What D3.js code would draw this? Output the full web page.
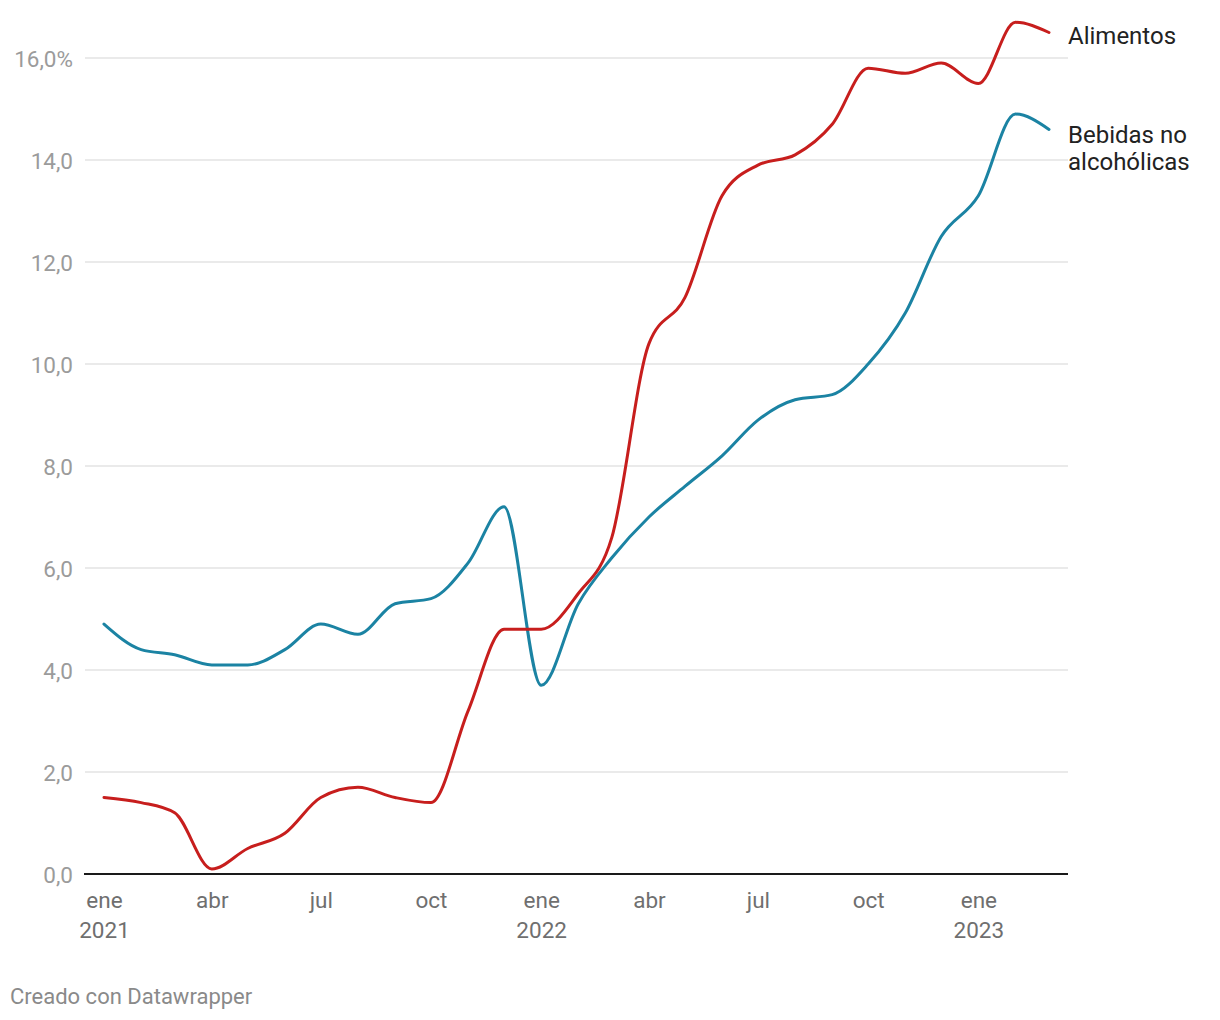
<!DOCTYPE html>
<html><head><meta charset="utf-8">
<script src="https://cdn.jsdelivr.net/npm/d3@7"></script>
<style>
html,body{margin:0;padding:0;background:#fff;}
svg{display:block;font-family:Roboto,"Noto Sans",sans-serif;}
</style></head>
<body>
<svg id="chart" width="1220" height="1020"></svg>
<script>
const months = ["2021-01","2021-02","2021-03","2021-04","2021-05","2021-06","2021-07","2021-08","2021-09","2021-10","2021-11","2021-12",
"2022-01","2022-02","2022-03","2022-04","2022-05","2022-06","2022-07","2022-08","2022-09","2022-10","2022-11","2022-12",
"2023-01","2023-02","2023-03"];
const alimentos = [1.5,1.4,1.2,0.1,0.5,0.8,1.5,1.7,1.5,1.4,3.2,4.8,
4.8,5.5,6.6,10.4,11.3,13.3,13.9,14.1,14.7,15.8,15.7,15.9,15.5,16.7,16.5];
const bebidas = [4.9,4.4,4.3,4.1,4.1,4.4,4.9,4.7,5.3,5.4,6.1,7.2,
3.7,5.3,6.2,7.0,7.6,8.2,8.9,9.3,9.4,10.0,11.0,12.5,13.3,14.9,14.6];
const yTicks = [0,2,4,6,8,10,12,14,16];
const xTickDates = ["2021-01","2021-04","2021-07","2021-10","2022-01","2022-04","2022-07","2022-10","2023-01"];
const monthNames = ["ene","feb","mar","abr","may","jun","jul","ago","sep","oct","nov","dic"];
const seriesNames = [["Alimentos"],["Bebidas no","alcohólicas"]];
const colors = ["#c71e1d","#1b83a3"];

const parse = d3.timeParse("%Y-%m");
const dates = months.map(parse);
const svg = d3.select("#chart");

const x = d3.scaleTime().domain([dates[0], dates[dates.length-1]]).range([104, 1049]);
const y = d3.scaleLinear().domain([0,16]).range([874, 58]);

// gridlines
const yAxis = d3.axisLeft(y).tickValues(yTicks).tickSize(0).tickPadding(0)
  .tickFormat(d => d3.format(".1f")(d).replace(".", ",") + (d === 16 ? "%" : ""));
const gy = svg.append("g");
gy.selectAll("line.grid").data(yTicks.filter(d=>d>0)).join("line")
  .attr("x1",85).attr("x2",1068).attr("y1",d=>y(d)).attr("y2",d=>y(d))
  .attr("stroke","#e3e3e3").attr("stroke-width",1.5);
const ga = svg.append("g").attr("transform","translate(73,0)").call(yAxis);
ga.select(".domain").remove();
ga.selectAll("text").attr("fill","#9b9b9b").attr("font-size",22.5).attr("font-family","Roboto").attr("dy","0.36em");

// x axis labels
const xAxis = d3.axisBottom(x).tickValues(xTickDates.map(parse)).tickSize(0).tickPadding(0)
  .tickFormat(d => monthNames[d.getMonth()]);
const gx = svg.append("g").attr("transform","translate(0,874)").call(xAxis);
gx.select(".domain").remove();
gx.selectAll("text").attr("fill","#6f6f6f").attr("font-size",22.5).attr("font-family","Roboto").attr("dy",34);
gx.selectAll(".tick").filter(d=>d.getMonth()===0).append("text")
  .attr("fill","#6f6f6f").attr("font-size",22.5).attr("font-family","Roboto").attr("text-anchor","middle")
  .attr("y",64).text(d=>d.getFullYear());

// baseline
svg.append("line").attr("x1",84).attr("x2",1068).attr("y1",y(0)).attr("y2",y(0))
  .attr("stroke","#1a1a1a").attr("stroke-width",2);

// lines
const line = d3.line().x((d,i)=>x(dates[i])).y(d=>y(d)).curve(d3.curveMonotoneX);
[bebidas, alimentos].forEach((s,k)=>{
  svg.append("path").datum(s).attr("d",line).attr("fill","none")
    .attr("stroke", colors[1-k]).attr("stroke-width",3).attr("stroke-linejoin","round").attr("stroke-linecap","round");
});

// labels
const lab = svg.append("g");
lab.append("text").attr("x",1068).attr("y",44).attr("font-size",24).attr("fill","#222").text(seriesNames[0][0]);
const t2 = lab.append("text").attr("x",1068).attr("y",143).attr("font-size",24).attr("fill","#222");
t2.append("tspan").attr("x",1068).text(seriesNames[1][0]);
t2.append("tspan").attr("x",1068).attr("dy",27).text(seriesNames[1][1]);

svg.append("text").attr("x",10).attr("y",1004).attr("font-size",22).attr("fill","#8a8a8a").text("Creado con Datawrapper");
</script>
</body></html>
